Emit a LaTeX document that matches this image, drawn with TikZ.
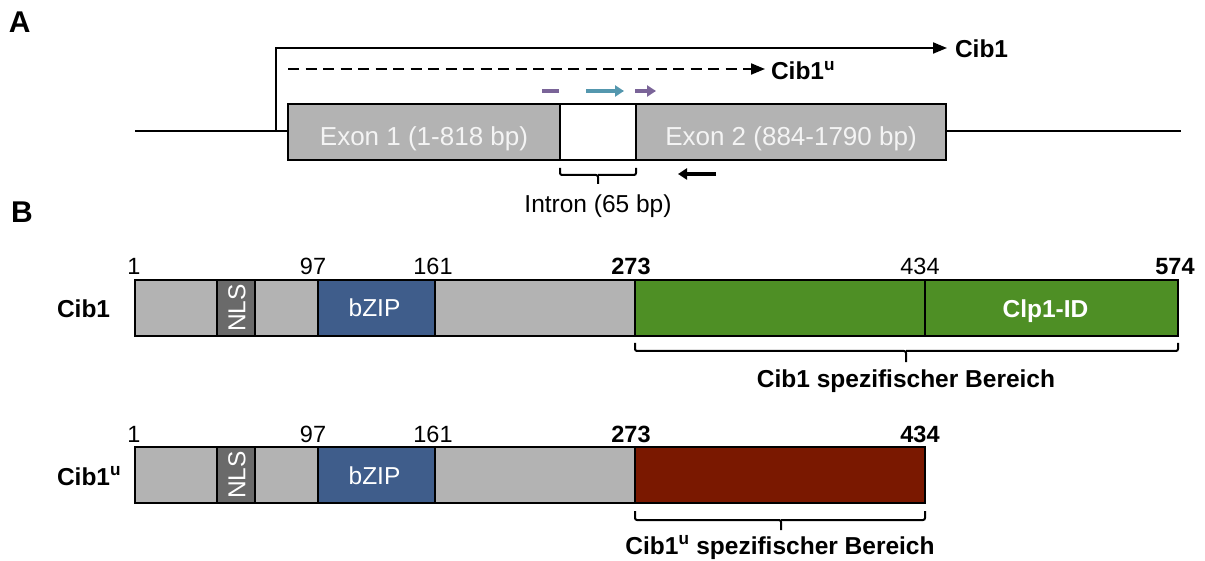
\documentclass[tikz,border=0pt]{standalone}
\usepackage{fontspec}
\setmainfont{Liberation Sans}
\usetikzlibrary{arrows.meta,calc}
\definecolor{boxgray}{HTML}{B3B3B3}
\definecolor{nlsgray}{HTML}{6A6A6A}
\definecolor{bzipblue}{HTML}{3F5D8B}
\definecolor{cibgreen}{HTML}{4E8F25}
\definecolor{cibred}{HTML}{7A1800}
\definecolor{primpurple}{HTML}{7A6498}
\definecolor{primteal}{HTML}{5497AE}
\definecolor{exontext}{HTML}{F4F4F4}
\newcommand\fsnum{\fontsize{23.5}{26}\selectfont}
\newcommand\fslab{\fontsize{24.5}{28}\selectfont}
\newcommand\fsexon{\fontsize{26}{30}\selectfont}
\newcommand\fspanel{\fontsize{30}{34}\selectfont\bfseries}
\begin{document}
\begin{tikzpicture}[x=1pt,y=-1pt,
  seg/.style={draw=black,line width=2.2pt,inner sep=0pt,outer sep=0pt,minimum height=56pt,anchor=north west},
  txt/.style={inner sep=0pt,outer sep=0pt,anchor=base},
  numlbl/.style={txt,font=\fsnum},
  boldnum/.style={txt,font=\fsnum\bfseries},
  bline/.style={line width=2pt,line cap=rect},
  brk/.style={line width=2pt,rounded corners=2pt},
  tri/.style={-{Triangle[length=14pt,width=11pt]}},
  primer/.style={line width=4pt},
  ptip/.style={-{Triangle[length=9pt,width=11pt]}}
]
\useasboundingbox (0,0) rectangle (1205,561);

% ---------------- Panel A ----------------
\node[txt,anchor=base west,font=\fspanel] (pA) at (9,33) {A};

\node[seg,fill=boxgray,minimum width=272pt] (ex1) at (288,104) {};
\node[seg,fill=white,minimum width=76pt] (intr) at (ex1.north east) {};
\node[seg,fill=boxgray,minimum width=310pt] (ex2) at (intr.north east) {};
\node[txt,font=\fsexon,text=exontext] (ex1t) at ($(ex1.center)+(0,14)$) {Exon 1 (1-818 bp)};
\node[txt,font=\fsexon,text=exontext] (ex2t) at ($(ex2.center)+(0,14)$) {Exon 2 (884-1790 bp)};

\coordinate (gl) at (136,131);
\coordinate (gr) at (1180,131);
\draw[bline] (gl) -- (ex1.west |- gl);
\draw[bline] (ex2.east |- gr) -- (gr);

% transcription start
\coordinate (ts) at (276,131);
\coordinate (tc) at (276,48);
\coordinate (te) at (947,48);
\node[txt,anchor=base west,font=\fslab\bfseries] (lcib1) at (955,58) {Cib1};
\draw[line width=2pt,tri] (ts) -- (tc) -- (te);

\coordinate (ds) at (288,69);
\coordinate (de) at (765,69);
\node[txt,anchor=base west,font=\fslab\bfseries] (lcib1u) at (771,80) {Cib1\textsuperscript{u}};
\draw[line width=2pt,dash pattern=on 11pt off 6.5pt,tri] (ds) -- (de);

% primers
\coordinate (p1a) at (542,91);
\coordinate (p1b) at (559,91);
\draw[primer,primpurple] (p1a) -- (p1b);
\coordinate (p2a) at (586,91);
\coordinate (p2b) at (624,91);
\draw[primer,primteal,ptip] (p2a) -- (p2b);
\coordinate (p3a) at (635,91);
\coordinate (p3b) at (656,91);
\draw[primer,primpurple,ptip] (p3a) -- (p3b);
\coordinate (p4a) at (716,174);
\coordinate (p4b) at (678,174);
\draw[line width=3.5pt,black,ptip] (p4a) -- (p4b);

% intron bracket
\coordinate (ib1) at ($(intr.south west)+(0,8)$);
\coordinate (ib2) at ($(intr.south east)+(0,8)$);
\draw[brk] (ib1) -- ++(0,7) -- ($(ib1)!0.5!(ib2)+(0,7)$) -- ($(ib1)!0.5!(ib2)+(0,16)$);
\draw[brk] ($(ib1)!0.5!(ib2)+(0,7)$) -- ($(ib2)+(0,7)$) -- (ib2);
\node[txt,font=\fslab] (intrt) at (598,213) {Intron (65 bp)};

% ---------------- Panel B ----------------
\node[txt,anchor=base west,font=\fspanel] (pB) at (11,223) {B};

% Cib1 bar
\node[seg,fill=boxgray,minimum width=82pt] (a1) at (135,280) {};
\node[seg,fill=nlsgray,minimum width=38pt] (a2) at (a1.north east) {};
\node[seg,fill=boxgray,minimum width=63pt] (a3) at (a2.north east) {};
\node[seg,fill=bzipblue,minimum width=117pt] (a4) at (a3.north east) {};
\node[seg,fill=boxgray,minimum width=200pt] (a5) at (a4.north east) {};
\node[seg,fill=cibgreen,minimum width=290pt] (a6) at (a5.north east) {};
\node[seg,fill=cibgreen,minimum width=253pt] (a7) at (a6.north east) {};

\node[txt,rotate=90,font=\fslab,text=white,anchor=center] (nls1) at ($(a2.center)+(1,0)$) {NLS};
\node[txt,font=\fslab,text=white] (bz1) at ($(a4.center)+(-2,9)$) {bZIP};
\node[txt,font=\fslab\bfseries,text=white] (clp) at ($(a7.center)+(-6,10)$) {Clp1-ID};
\node[txt,anchor=base west,font=\fslab\bfseries] (lc1) at (57,318) {Cib1};

\node[numlbl] (n1a) at (134,275) {1};
\node[numlbl] (n2a) at (313,275) {97};
\node[numlbl] (n3a) at (433,275) {161};
\node[boldnum] (n4a) at (631,275) {273};
\node[numlbl] (n5a) at (920,275) {434};
\node[boldnum] (n6a) at (1175,275) {574};

% Cib1 bracket
\coordinate (cb1) at ($(a6.south west)+(0,7)$);
\coordinate (cb2) at ($(a7.south east)+(0,7)$);
\coordinate (cbm) at (906,351);
\draw[brk] (cb1) -- (cb1 |- cbm) -- (cbm) -- ++(0,11);
\draw[brk] (cbm) -- (cb2 |- cbm) -- (cb2);
\node[txt,font=\fslab\bfseries] (cspez) at (906,387) {Cib1 spezifischer Bereich};

% Cib1u bar
\node[seg,fill=boxgray,minimum width=82pt] (b1) at (135,447) {};
\node[seg,fill=nlsgray,minimum width=38pt] (b2) at (b1.north east) {};
\node[seg,fill=boxgray,minimum width=63pt] (b3) at (b2.north east) {};
\node[seg,fill=bzipblue,minimum width=117pt] (b4) at (b3.north east) {};
\node[seg,fill=boxgray,minimum width=200pt] (b5) at (b4.north east) {};
\node[seg,fill=cibred,minimum width=290pt] (b6) at (b5.north east) {};

\node[txt,rotate=90,font=\fslab,text=white,anchor=center] (nls2) at ($(b2.center)+(1,0)$) {NLS};
\node[txt,font=\fslab,text=white] (bz2) at ($(b4.center)+(-2,9)$) {bZIP};
\node[txt,anchor=base west,font=\fslab\bfseries] (lc2) at (57,485) {Cib1\textsuperscript{u}};

\node[numlbl] (n1b) at (134,442) {1};
\node[numlbl] (n2b) at (313,442) {97};
\node[numlbl] (n3b) at (433,442) {161};
\node[boldnum] (n4b) at (631,442) {273};
\node[boldnum] (n5b) at (920,442) {434};

% Cib1u bracket
\coordinate (ub1) at ($(b6.south west)+(0,8)$);
\coordinate (ub2) at ($(b6.south east)+(0,8)$);
\coordinate (ubm) at (781,520);
\draw[brk] (ub1) -- (ub1 |- ubm) -- (ubm) -- ++(0,10);
\draw[brk] (ubm) -- (ub2 |- ubm) -- (ub2);
\node[txt,font=\fslab\bfseries] (uspez) at (780,554) {Cib1\textsuperscript{u} spezifischer Bereich};
\end{tikzpicture}
\end{document}
